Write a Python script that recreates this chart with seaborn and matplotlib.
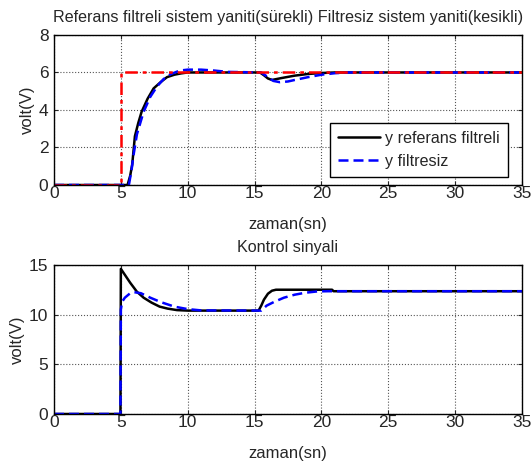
import matplotlib
matplotlib.use("Agg")
import matplotlib.pyplot as plt
import numpy as np
import pandas as pd
import seaborn as sns


# -------------------------------------------------------------------------------------------
# Veriler

t_ref = [0, 5, 5, 35]
y_ref = [0, 0, 6, 6]

t_filtreli = [0, 5.5, 5.7, 5.85, 6.05, 6.3, 6.55, 7.0, 7.45, 8.0, 8.45, 9.0, 9.5, 10.0,
              15.4, 15.7, 16.0, 16.3, 17.0, 18.0, 19.0, 20.0, 21.0, 35]
y_filtreli = [0, 0, 0.5, 1.1, 2.6, 3.3, 3.9, 4.6, 5.15, 5.5, 5.75, 5.88, 5.95, 6.0,
              6.0, 5.85, 5.68, 5.6, 5.7, 5.83, 5.92, 5.97, 6.0, 6.0]

t_filtresiz = [0, 5.6, 5.8, 5.95, 6.2, 6.7, 7.2, 7.7, 8.2, 8.7, 9.4, 10, 11, 12, 13,
               15.5, 15.9, 16.4, 16.9, 17.5, 18, 19, 20, 21, 22, 35]
y_filtresiz = [0, 0, 0.8, 1.6, 2.7, 3.9, 4.7, 5.25, 5.65, 5.9, 6.1, 6.15, 6.15, 6.1, 6.03,
               6.0, 5.8, 5.55, 5.48, 5.52, 5.6, 5.75, 5.88, 5.96, 6.0, 6.0]

t_u_filtreli = [0, 4.97, 5.0, 5.3, 5.7, 6.2, 6.7, 7.3, 7.9, 8.5, 9.2, 10, 15.3, 15.5,
                15.7, 16.0, 16.3, 16.6, 20.8, 20.9, 35]
u_filtreli = [0, 0, 14.6, 14.0, 13.2, 12.3, 11.7, 11.2, 10.8, 10.6, 10.45, 10.4, 10.4, 10.9,
              11.5, 12.1, 12.4, 12.5, 12.5, 12.35, 12.35]

t_u_filtresiz = [0, 4.97, 5.0, 5.1, 5.3, 5.7, 6.0, 6.5, 7.2, 8.0, 9.0, 10, 11, 15.5, 15.9,
                 16.5, 17.2, 18.0, 18.8, 19.7, 20.5, 35]
u_filtresiz = [0, 0, 10.5, 11.3, 11.7, 12.15, 12.25, 12.15, 11.7, 11.25, 10.8, 10.55, 10.42,
               10.4, 10.9, 11.3, 11.7, 12.0, 12.2, 12.33, 12.35, 12.35]


# -------------------------------------------------------------------------------------------
# Stil

sns.set_style("ticks")
plt.rcParams["font.family"] = ["Liberation Sans", "DejaVu Sans"]
plt.rcParams["xtick.direction"] = "in"
plt.rcParams["ytick.direction"] = "in"

fig = plt.figure(figsize=(5.32, 4.66), dpi=100)
ax1 = fig.add_axes([0.1015, 0.603, 0.8797, 0.322])
ax2 = fig.add_axes([0.1015, 0.1116, 0.8797, 0.32])


def duzenle(ax, ylim, yticks, baslik):
    ax.set_xlim(0, 35)
    ax.set_ylim(*ylim)
    ax.set_xticks(range(0, 36, 5))
    ax.set_yticks(yticks)
    ax.grid(True, linestyle=":", color="#555555", linewidth=0.8)
    ax.tick_params(top=True, right=True, length=3, width=0.8, labelsize=12.5)
    ax.tick_params(axis="x", pad=1)
    ax.tick_params(axis="y", pad=4)
    for s in ax.spines.values():
        s.set_linewidth(1.0)
        s.set_color("black")
    ax.set_xlabel("zaman(sn)", fontsize=12, labelpad=11)
    ax.set_ylabel("volt(V)", fontsize=12, labelpad=3)
    ax.set_title(baslik, fontsize=11.6, pad=9.5)


# -------------------------------------------------------------------------------------------
# Sistem yaniti

sns.lineplot(x=t_filtreli, y=y_filtreli, ax=ax1, color="black", linewidth=1.8,
             estimator=None, sort=False, label="y referans filtreli")
sns.lineplot(x=t_filtresiz, y=y_filtresiz, ax=ax1, color="blue", linewidth=1.8,
             linestyle="--", estimator=None, sort=False, label="y filtresiz")
sns.lineplot(x=t_ref, y=y_ref, ax=ax1, color="red", linewidth=1.8,
             estimator=None, sort=False)
ax1.lines[-1].set_dashes([5, 2, 1.5, 2])
ax1.lines[1].set_dashes([4, 2])

duzenle(ax1, (0, 8), range(0, 9, 2),
        "Referans filtreli sistem yaniti(sürekli) Filtresiz sistem yaniti(kesikli)")

leg = ax1.legend(loc="lower right", bbox_to_anchor=(0.970, 0.053), fontsize=11.6,
                 frameon=True, fancybox=False, framealpha=1, edgecolor="black",
                 handlelength=2.6, borderpad=0.5, labelspacing=0.5, handletextpad=0.3,
                 borderaxespad=0)
leg.get_frame().set_linewidth(1.0)


# -------------------------------------------------------------------------------------------
# Kontrol sinyali

sns.lineplot(x=t_u_filtreli, y=u_filtreli, ax=ax2, color="black", linewidth=1.8,
             estimator=None, sort=False)
sns.lineplot(x=t_u_filtresiz, y=u_filtresiz, ax=ax2, color="blue", linewidth=1.8,
             linestyle="--", estimator=None, sort=False)
ax2.lines[1].set_dashes([4, 2])

duzenle(ax2, (0, 15), range(0, 16, 5), "Kontrol sinyali")

fig.savefig("out.png", dpi=100)
